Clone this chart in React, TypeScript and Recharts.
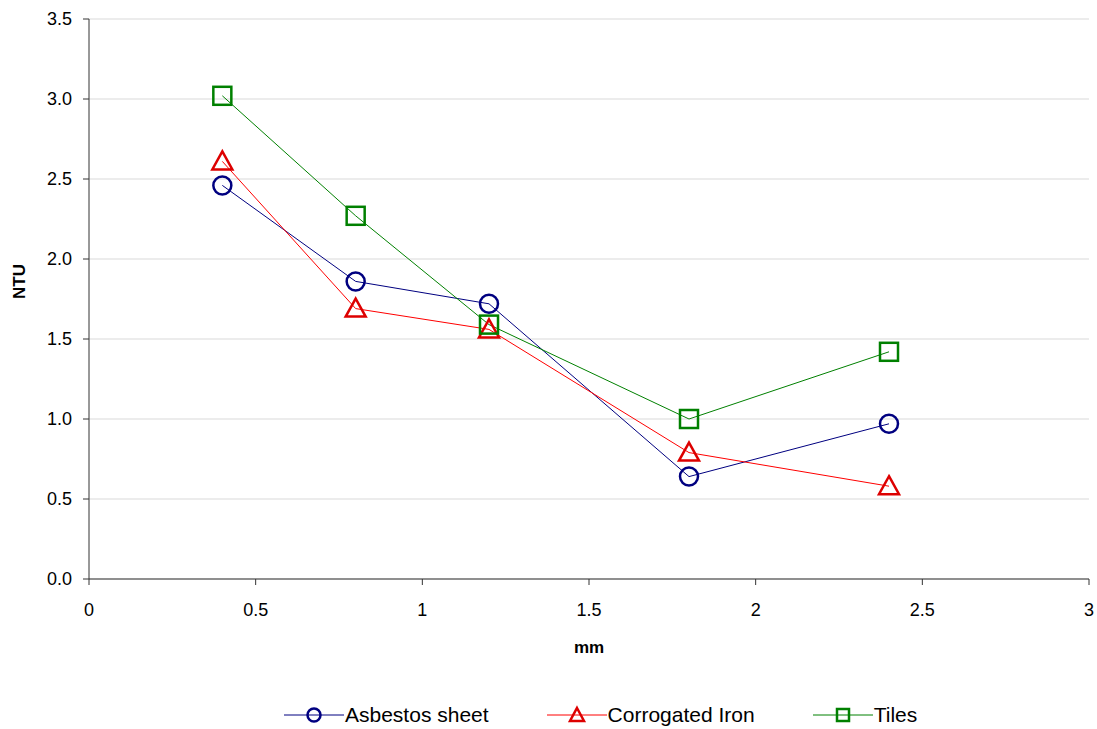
import React from 'react';
import { LineChart, Line, XAxis, YAxis, CartesianGrid } from 'recharts';

const mm = [0.4, 0.8, 1.2, 1.8, 2.4];
const asbestos = [2.46, 1.86, 1.72, 0.64, 0.97];
const corrugated = [2.61, 1.69, 1.56, 0.79, 0.58];
const tiles = [3.02, 2.27, 1.59, 1.0, 1.42];

const xTicks = [0, 0.5, 1, 1.5, 2, 2.5, 3];
const yTicks = [0, 0.5, 1, 1.5, 2, 2.5, 3, 3.5];

const data = mm.map((x, i) => ({
  mm: x,
  asbestos: asbestos[i],
  corrugated: corrugated[i],
  tiles: tiles[i],
}));

const FONT = 'Liberation Sans, Arial, sans-serif';

type Shape = 'circle' | 'triangle' | 'square';

function Marker({ cx, cy, shape, color }: { cx: number; cy: number; shape: Shape; color: string }) {
  if (cx == null || cy == null) return null;
  if (shape === 'circle') {
    return <circle cx={cx} cy={cy} r={9} fill="none" stroke={color} strokeWidth={2.5} />;
  }
  if (shape === 'triangle') {
    const pts = `${cx},${cy - 10} ${cx + 10},${cy + 8} ${cx - 10},${cy + 8}`;
    return <polygon points={pts} fill="none" stroke={color} strokeWidth={2.5} />;
  }
  return <rect x={cx - 9} y={cy - 9} width={18} height={18} fill="none" stroke={color} strokeWidth={2.5} />;
}

const series = [
  { key: 'asbestos', name: 'Asbestos sheet', line: '#000080', mark: '#000080', shape: 'circle' as Shape },
  { key: 'corrugated', name: 'Corrogated Iron', line: '#ff0000', mark: '#dd0000', shape: 'triangle' as Shape },
  { key: 'tiles', name: 'Tiles', line: '#008000', mark: '#008000', shape: 'square' as Shape },
];

function LegendIcon({ s }: { s: (typeof series)[number] }) {
  return (
    <svg width={60} height={22} style={{ display: 'block' }}>
      <line x1={0} y1={11} x2={60} y2={11} stroke={s.line} strokeWidth={1} />
      {s.shape === 'circle' && <circle cx={30} cy={11} r={6.5} fill="none" stroke={s.mark} strokeWidth={2.5} />}
      {s.shape === 'triangle' && (
        <polygon points="30,4 37,17 23,17" fill="none" stroke={s.mark} strokeWidth={2.5} />
      )}
      {s.shape === 'square' && <rect x={24} y={5} width={12} height={12} fill="none" stroke={s.mark} strokeWidth={2.5} />}
    </svg>
  );
}

export default function App() {
  return (
    <div style={{ position: 'absolute', left: 0, top: 0, width: 1097, height: 729, background: '#fff', fontFamily: FONT }}>
      <LineChart width={1097} height={729} data={data} margin={{ top: 19, right: 8, left: 29, bottom: 120 }}>
        <CartesianGrid horizontal vertical={false} stroke="#d9d9d9" />
        <XAxis
          dataKey="mm"
          type="number"
          domain={[0, 3]}
          ticks={xTicks}
          height={30}
          stroke="#333"
          tickSize={6}
          tickMargin={18}
          tick={{ fill: '#000', fontSize: 18, fontFamily: FONT }}
          label={{ value: 'mm', position: 'bottom', offset: 32, fill: '#000', fontSize: 17, fontWeight: 'bold', fontFamily: FONT }}
        />
        <YAxis
          type="number"
          domain={[0, 3.5]}
          ticks={yTicks}
          width={60}
          stroke="#333"
          tickSize={6}
          tickMargin={11}
          tickFormatter={(v: number) => v.toFixed(1)}
          tick={{ fill: '#000', fontSize: 18, fontFamily: FONT }}
          label={{ value: 'NTU', angle: -90, position: 'insideLeft', offset: 0, dx: -10, fill: '#000', fontSize: 17, fontWeight: 'bold', fontFamily: FONT }}
        />
        {series.map((s) => (
          <Line
            key={s.key}
            dataKey={s.key}
            name={s.name}
            stroke={s.line}
            strokeWidth={1}
            isAnimationActive={false}
            dot={(p: any) => <Marker key={`${s.key}-${p.index}`} cx={p.cx} cy={p.cy} shape={s.shape} color={s.mark} />}
            activeDot={false}
          />
        ))}
      </LineChart>
      <div
        style={{
          position: 'absolute',
          top: 703,
          left: 284,
          display: 'flex',
          alignItems: 'center',
          fontSize: 21,
          whiteSpace: 'nowrap',
        }}
      >
        {series.map((s, i) => (
          <div key={s.key} style={{ display: 'flex', alignItems: 'center', marginLeft: i === 0 ? 0 : 58 }}>
            <LegendIcon s={s} />
            <span style={{ marginLeft: 1 }}>{s.name}</span>
          </div>
        ))}
      </div>
    </div>
  );
}
